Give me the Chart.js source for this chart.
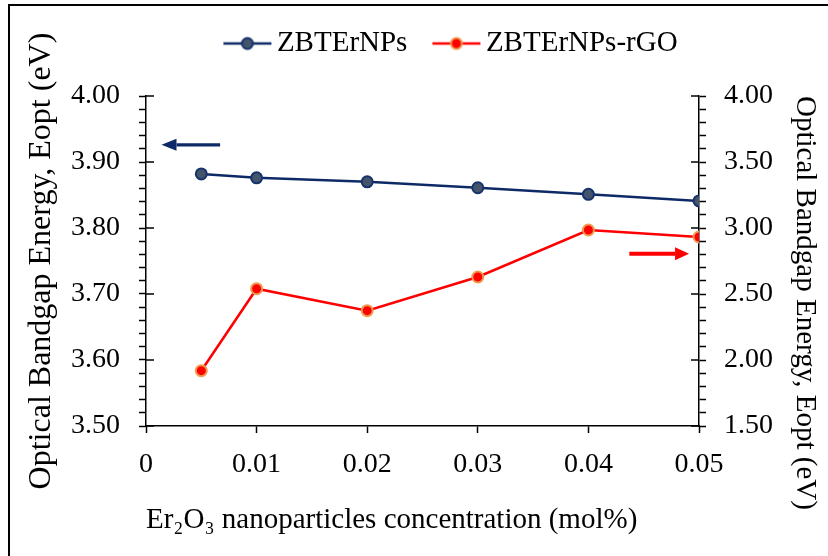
<!DOCTYPE html>
<html>
<head>
<meta charset="utf-8">
<script src="https://cdn.jsdelivr.net/npm/chart.js@4.4.0/dist/chart.umd.min.js"></script>
<style>
  html, body { margin: 0; padding: 0; background: #fff; overflow: hidden; }
  #wrap { position: relative; width: 828px; height: 556px; }
  #frame { position: absolute; left: 8px; top: 4px; width: 900px; height: 700px;
           border-left: 2px solid #000; border-top: 2px solid #000; pointer-events: none; }
</style>
</head>
<body>
<div id="wrap"><canvas id="chart" width="828" height="556"></canvas><div id="frame"></div></div>
<script>
// Er2O3 concentration (mol%)
var concentration = [0.005, 0.01, 0.02, 0.03, 0.04, 0.05];
// optical band gap, left axis
var eoptZBTErNPs = [3.882, 3.876, 3.870, 3.861, 3.851, 3.841];
// optical band gap, right axis
var eoptRGO = [1.919, 2.540, 2.374, 2.629, 2.985, 2.932];
var xTicks = [0, 0.01, 0.02, 0.03, 0.04, 0.05];
var seriesNames = ['ZBTErNPs', 'ZBTErNPs-rGO'];
// arrows that point to the axis each series belongs to
var arrowLeft = { from: 0.0067, to: 0.0014, y: 3.926, axis: 'y' };
var arrowRight = { from: 0.0437, to: 0.0491, y: 2.805, axis: 'y1' };

var NAVY = '#0E2A66', RED = '#FF0000';
var FONT = '"Liberation Serif", "Times New Roman", serif';
Chart.defaults.font.family = FONT;
Chart.defaults.color = '#000';

function points(ys) {
    return concentration.map(function (x, i) { return { x: x, y: ys[i] }; });
}

function legendMarker(lineColor, fill, stroke) {
    var c = document.createElement('canvas');
    c.width = 50; c.height = 16;
    var g = c.getContext('2d');
    g.strokeStyle = lineColor; g.lineWidth = 2.5;
    g.beginPath(); g.moveTo(1, 8); g.lineTo(49, 8); g.stroke();
    g.beginPath(); g.arc(25, 8, 5.5, 0, Math.PI * 2);
    g.fillStyle = fill; g.fill();
    g.lineWidth = 2; g.strokeStyle = stroke; g.stroke();
    return c;
}
var markers = [
    legendMarker(NAVY, '#44546A', '#17336E'),
    legendMarker(RED, RED, '#F09A50')
];

function isMajor(v, step) {
    var k = v / step;
    return Math.abs(k - Math.round(k)) < 1e-6;
}

// legend height so that the plot starts where the reference one does,
// and the legend row nudged to where it sits in the reference
var legendSpacing = {
    id: 'legendSpacing',
    beforeInit: function (chart) {
        var fit = chart.legend.fit;
        chart.legend.fit = function () {
            fit.bind(chart.legend)();
            this.height = 79;
        };
    },
    afterLayout: function (chart) {
        var lg = chart.legend;
        lg.left += 41; lg.right += 41;
        lg.top -= 22; lg.bottom -= 22;
    }
};

function drawArrow(ctx, chart, a, color, width, head, half) {
    var sx = chart.scales.x, sy = chart.scales[a.axis];
    var x0 = sx.getPixelForValue(a.from), x1 = sx.getPixelForValue(a.to);
    var y = sy.getPixelForValue(a.y);
    var dir = x1 > x0 ? 1 : -1;
    ctx.strokeStyle = color; ctx.fillStyle = color; ctx.lineWidth = width;
    ctx.beginPath(); ctx.moveTo(x0, y); ctx.lineTo(x1 - dir * head, y); ctx.stroke();
    ctx.beginPath();
    ctx.moveTo(x1, y);
    ctx.lineTo(x1 - dir * head, y - half);
    ctx.lineTo(x1 - dir * head, y + half);
    ctx.closePath(); ctx.fill();
}

var decorations = {
    id: 'decorations',
    beforeDatasetsDraw: function (chart) {
        // inner half of the major ticks on both value axes
        var ctx = chart.ctx, y = chart.scales.y, y1 = chart.scales.y1;
        ctx.save();
        ctx.strokeStyle = '#000'; ctx.lineWidth = 1.5;
        y.ticks.forEach(function (t) {
            if (!isMajor(t.value, 0.1)) return;
            var p = y.getPixelForValue(t.value);
            ctx.beginPath(); ctx.moveTo(y.right, p); ctx.lineTo(y.right + 8, p); ctx.stroke();
        });
        y1.ticks.forEach(function (t) {
            if (!isMajor(t.value, 0.5)) return;
            var p = y1.getPixelForValue(t.value);
            ctx.beginPath(); ctx.moveTo(y1.left, p); ctx.lineTo(y1.left - 8, p); ctx.stroke();
        });
        ctx.restore();
    },
    afterDatasetsDraw: function (chart) {
        var ctx = chart.ctx;
        ctx.save();
        drawArrow(ctx, chart, arrowLeft, NAVY, 3.2, 15, 6);
        drawArrow(ctx, chart, arrowRight, RED, 4, 14, 6.5);
        ctx.restore();
    }
};

var tickGrid = {
    drawOnChartArea: false, drawTicks: true, tickLength: 7,
    tickColor: '#000', tickWidth: 1.5, color: '#000'
};
var axisBorder = { display: true, color: '#000', width: 1.5 };

new Chart(document.getElementById('chart'), {
    type: 'line',
    data: {
        datasets: [{
            label: seriesNames[0],
            data: points(eoptZBTErNPs),
            yAxisID: 'y',
            borderColor: NAVY,
            borderWidth: 2.5,
            pointRadius: 5.5,
            pointBorderWidth: 2,
            pointBackgroundColor: '#44546A',
            pointBorderColor: '#17336E'
        }, {
            label: seriesNames[1],
            data: points(eoptRGO),
            yAxisID: 'y1',
            borderColor: RED,
            borderWidth: 2.5,
            pointRadius: 5.5,
            pointBorderWidth: 2,
            pointBackgroundColor: RED,
            pointBorderColor: '#F09A50'
        }]
    },
    plugins: [legendSpacing, decorations],
    options: {
        responsive: false,
        maintainAspectRatio: false,
        animation: false,
        layout: { padding: { top: 17, left: 0, right: 0, bottom: 0 } },
        plugins: {
            tooltip: { enabled: false },
            legend: {
                position: 'top',
                labels: {
                    usePointStyle: true,
                    pointStyleWidth: 30,
                    boxHeight: 14,
                    padding: 34,
                    font: { size: 29 },
                    color: '#000',
                    generateLabels: function (chart) {
                        var items = Chart.defaults.plugins.legend.labels.generateLabels(chart);
                        items.forEach(function (it, i) { it.pointStyle = markers[i]; });
                        return items;
                    }
                }
            }
        },
        scales: {
            x: {
                type: 'linear',
                min: 0, max: 0.05,
                afterBuildTicks: function (s) {
                    s.ticks = xTicks.map(function (v) { return { value: v }; });
                },
                afterFit: function (s) { s.height = 130; },
                ticks: {
                    autoSkip: false, maxRotation: 0, padding: 15,
                    font: { size: 28 },
                    callback: function (v) { return v === 0 ? '0' : v.toFixed(2); }
                },
                grid: tickGrid,
                border: axisBorder,
                title: {
                    display: true,
                    align: 'start',
                    text: 'Er\u2082O\u2083 nanoparticles concentration (mol%)',
                    font: { size: 29 },
                    padding: { top: 0, bottom: 18 }
                }
            },
            y: {
                position: 'left',
                min: 3.5, max: 4.0,
                afterFit: function (s) { s.width = 146; },
                ticks: {
                    stepSize: 0.02, autoSkip: false, padding: 19,
                    font: { size: 28 },
                    callback: function (v) { return isMajor(v, 0.1) ? v.toFixed(2) : ''; }
                },
                grid: tickGrid,
                border: axisBorder,
                title: {
                    display: true,
                    text: 'Optical Bandgap Energy, Eopt (eV)',
                    font: { size: 32 },
                    padding: { top: 22, bottom: 0 }
                }
            },
            y1: {
                position: 'right',
                min: 1.5, max: 4.0,
                afterFit: function (s) { s.width = 129; },
                ticks: {
                    stepSize: 0.1, autoSkip: false, padding: 18,
                    font: { size: 28 },
                    callback: function (v) { return isMajor(v, 0.5) ? v.toFixed(2) : ''; }
                },
                grid: tickGrid,
                border: axisBorder,
                title: {
                    display: true,
                    align: 'end',
                    text: 'Optical Bandgap Energy, Eopt (eV)',
                    font: { size: 29 },
                    padding: { top: 6, bottom: 0 }
                }
            }
        }
    }
});
</script>
</body>
</html>
